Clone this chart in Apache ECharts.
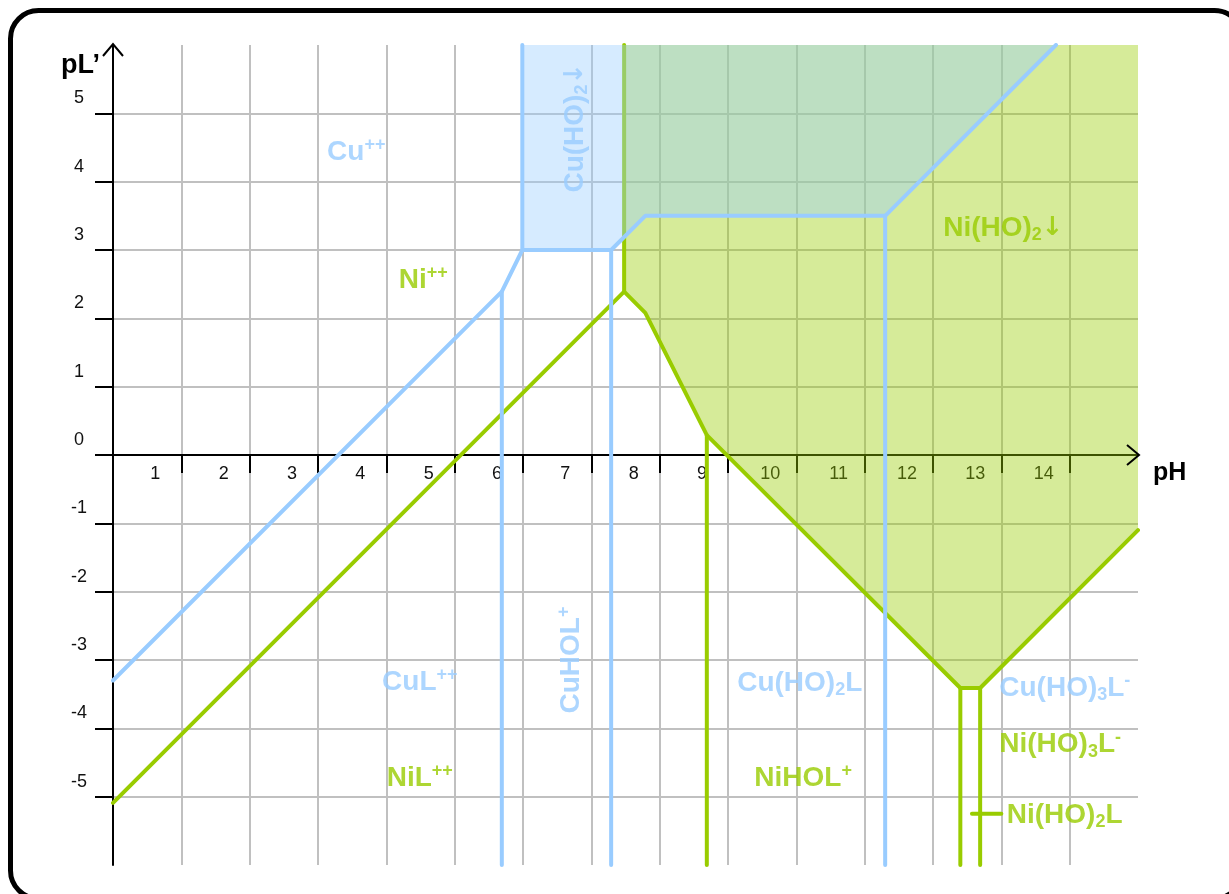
<!DOCTYPE html>
<html>
<head>
<meta charset="utf-8">
<script src="https://cdn.jsdelivr.net/npm/echarts@6/dist/echarts.min.js"></script>
<style>
  html, body { margin: 0; padding: 0; background: #fff; }
  #chart { width: 1229px; height: 894px; }
</style>
</head>
<body>
<div id="chart"></div>
<script>
// Tick labels of both axes
const phTicks = [1, 2, 3, 4, 5, 6, 7, 8, 9, 10, 11, 12, 13, 14];
const pLTicks = [-5, -4, -3, -2, -1, 0, 1, 2, 3, 4, 5];
const axisNames = { x: 'pH', y: 'pL\u2019' };

// Copper: predominance boundary [pH, pL'], dividing lines and Cu(HO)2 precipitate region
const cuBoundary = [[0, -3.3], [5.69, 2.39], [5.99, 3.0], [7.29, 3.0], [7.79, 3.5], [11.3, 3.5], [13.8, 6.0]];
const cuDividers = [
  [[5.69, 2.39], [5.69, -6]],
  [[5.99, 3.0], [5.99, 6]],
  [[7.29, 3.0], [7.29, -6]],
  [[11.3, 3.5], [11.3, -6]]
];
const cuPrecipitate = [[5.99, 6], [13.8, 6], [11.3, 3.5], [7.79, 3.5], [7.29, 3.0], [5.99, 3.0]];

// Nickel: predominance boundary, dividing lines and Ni(HO)2 precipitate region
const niBoundary = [[0, -5.09], [7.48, 2.39], [7.79, 2.08], [8.69, 0.29], [12.4, -3.41], [12.69, -3.41], [15, -1.1]];
const niDividers = [
  [[7.48, 2.39], [7.48, 6]],
  [[8.69, 0.29], [8.69, -6]],
  [[12.4, -3.41], [12.4, -6]],
  [[12.69, -3.41], [12.69, -6]],
  [[12.57, -5.25], [13.0, -5.25]]
];
const niPrecipitate = [[7.48, 6], [15, 6], [15, -1.1], [12.69, -3.41], [12.4, -3.41], [8.69, 0.29], [7.79, 2.08], [7.48, 2.39]];

// Species names placed in their domains
const speciesLabels = [
  { text: '{m|Cu}{sup|++}', metal: 'cu', at: [3.56, 4.43] },
  { text: '{m|Cu(HO)}{sub|2}{arr|\u2193}', metal: 'cu', at: [6.76, 4.79], vertical: true },
  { text: '{m|Ni}{sup|++}', metal: 'ni', at: [4.54, 2.56] },
  { text: '{m|Ni(HO)}{sub|2}{arr|\u2193}', metal: 'ni', at: [13.03, 3.32] },
  { text: '{m|CuL}{sup|++}', metal: 'cu', at: [4.49, -3.32] },
  { text: '{m|CuHOL}{sup|+}', metal: 'cu', at: [6.70, -3.0], vertical: true },
  { text: '{m|Cu(HO)}{sub|2}{m|L}', metal: 'cu', at: [10.05, -3.34] },
  { text: '{m|Cu(HO)}{sub|3}{m|L}{sup|-}', metal: 'cu', at: [12.97, -3.41], left: true },
  { text: '{m|Ni(HO)}{sub|3}{m|L}{sup|-}', metal: 'ni', at: [12.97, -4.24], left: true },
  { text: '{m|NiL}{sup|++}', metal: 'ni', at: [4.49, -4.73] },
  { text: '{m|NiHOL}{sup|+}', metal: 'ni', at: [10.1, -4.73] },
  { text: '{m|Ni(HO)}{sub|2}{m|L}', metal: 'ni', at: [13.08, -5.27], left: true }
];

const COLORS = {
  cu: { line: '#99ccff', fill: 'rgba(153,204,255,0.4)' },
  ni: { line: '#99cc00', fill: 'rgba(153,204,0,0.4)' }
};
const FONT = '"Liberation Sans", Arial, Helvetica, sans-serif';

function richFor(color) {
  return {
    m:   { fontFamily: FONT, fontWeight: 'bold', fontSize: 28, lineHeight: 32, color: color },
    arr: { fontFamily: '"DejaVu Sans", sans-serif', fontWeight: 'bold', fontSize: 26, lineHeight: 32, color: color },
    sup: { fontFamily: FONT, fontWeight: 'bold', fontSize: 18, lineHeight: 18, color: color, verticalAlign: 'top' },
    sub: { fontFamily: FONT, fontWeight: 'bold', fontSize: 18, lineHeight: 18, color: color, verticalAlign: 'bottom' }
  };
}

function polygonSeries(points, fill, z) {
  return {
    type: 'custom',
    z: z,
    silent: true,
    data: [0],
    renderItem: function (params, api) {
      return {
        type: 'polygon',
        shape: { points: points.map(function (p) { return api.coord(p); }) },
        style: { fill: fill, stroke: null }
      };
    }
  };
}

function lineSeries(points, color, z) {
  return {
    type: 'line',
    z: z,
    silent: true,
    data: points,
    symbol: 'none',
    animation: false,
    lineStyle: { color: color, width: 4, cap: 'round', join: 'round' }
  };
}

const series = [];

// Tick labels and axis names, set just beside the ticks (under the shaded regions)
series.push({
  type: 'custom',
  z: 1,
  silent: true,
  data: [0],
  renderItem: function (params, api) {
    const children = [];
    const tickStyle = { fontFamily: FONT, fontSize: 18, fill: '#111', align: 'center', verticalAlign: 'middle' };
    phTicks.forEach(function (v) {
      const p = api.coord([v, 0]);
      children.push({ type: 'text', x: p[0] - 26, y: p[1] + 19, style: Object.assign({ text: String(v) }, tickStyle) });
    });
    pLTicks.forEach(function (v) {
      const p = api.coord([0, v]);
      children.push({ type: 'text', x: p[0] - 34, y: p[1] - 15, style: Object.assign({ text: String(v) }, tickStyle) });
    });
    const top = api.coord([0, 6]);
    const right = api.coord([15, 0]);
    children.push({ type: 'text', x: top[0] - 13, y: top[1] + 21,
      style: { text: axisNames.y, fontFamily: FONT, fontWeight: 'bold', fontSize: 27, fill: '#000', align: 'right', verticalAlign: 'middle' } });
    children.push({ type: 'text', x: right[0] + 15, y: right[1] + 18,
      style: { text: axisNames.x, fontFamily: FONT, fontWeight: 'bold', fontSize: 25, fill: '#000', align: 'left', verticalAlign: 'middle' } });
    return { type: 'group', children: children };
  }
});

series.push(polygonSeries(niPrecipitate, COLORS.ni.fill, 2));
series.push(lineSeries(niBoundary, COLORS.ni.line, 3));
niDividers.forEach(function (seg) { series.push(lineSeries(seg, COLORS.ni.line, 3)); });
series.push(polygonSeries(cuPrecipitate, COLORS.cu.fill, 4));
series.push(lineSeries(cuBoundary, COLORS.cu.line, 5));
cuDividers.forEach(function (seg) { series.push(lineSeries(seg, COLORS.cu.line, 5)); });

// Open arrow heads at the ends of both axes
series.push({
  type: 'custom',
  z: 6,
  silent: true,
  data: [0],
  renderItem: function (params, api) {
    const top = api.coord([0, 6]);
    const right = api.coord([15, 0]);
    const st = { stroke: '#000', lineWidth: 2, fill: null, lineJoin: 'miter' };
    return {
      type: 'group',
      children: [
        { type: 'polyline', shape: { points: [[top[0] - 10, top[1] + 11], [top[0], top[1] - 1], [top[0] + 10, top[1] + 11]] }, style: st },
        { type: 'polyline', shape: { points: [[right[0] - 11, right[1] - 10], [right[0] + 1, right[1]], [right[0] - 11, right[1] + 10]] }, style: st }
      ]
    };
  }
});

// Species names
series.push({
  type: 'scatter',
  z: 7,
  silent: true,
  symbolSize: 0,
  animation: false,
  data: speciesLabels.map(function (s) {
    const color = COLORS[s.metal].line;
    return {
      value: s.at,
      label: {
        show: true,
        formatter: s.text,
        position: s.left ? 'right' : 'inside',
        distance: 0,
        rotate: s.vertical ? 90 : 0,
        align: s.left ? 'left' : 'center',
        verticalAlign: 'middle',
        rich: richFor(color)
      }
    };
  })
});

const chart = echarts.init(document.getElementById('chart'), null, { renderer: 'canvas' });
chart.setOption({
  animation: false,
  backgroundColor: '#fff',
  grid: { left: 113, top: 45, width: 1025, height: 820, containLabel: false },
  xAxis: {
    type: 'value',
    min: 0, max: 15, interval: 1,
    axisLine: { onZero: true, lineStyle: { color: '#000', width: 2 } },
    axisTick: { show: true, length: 18, customValues: phTicks, lineStyle: { color: '#000', width: 2 } },
    axisLabel: { show: false },
    splitLine: { show: true, lineStyle: { color: '#c0c0c0', width: 2 } }
  },
  yAxis: {
    type: 'value',
    min: -6, max: 6, interval: 1,
    axisLine: { onZero: false, lineStyle: { color: '#000', width: 2 } },
    axisTick: { show: true, length: 18, customValues: pLTicks, lineStyle: { color: '#000', width: 2 } },
    axisLabel: { show: false },
    splitLine: { show: true, lineStyle: { color: '#c0c0c0', width: 2 } }
  },
  graphic: [{
    type: 'rect',
    silent: true,
    z: 100,
    shape: { x: 10.5, y: 10.5, width: 1232, height: 888, r: 28 },
    style: { fill: null, stroke: '#000', lineWidth: 5 }
  }],
  series: series
});
</script>
</body>
</html>
